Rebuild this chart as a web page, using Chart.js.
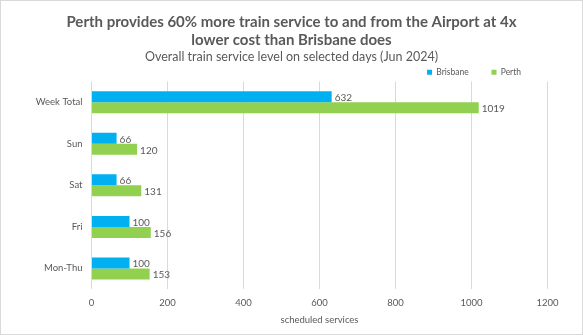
<!DOCTYPE html>
<html>
<head>
<meta charset="utf-8">
<script src="https://cdn.jsdelivr.net/npm/chart.js@4"></script>
<style>
  html, body { margin: 0; padding: 0; background: #fff; }
  #wrap { width: 583px; height: 335px; box-sizing: border-box; border: 1px solid #d9d9d9; position: relative; }
</style>
</head>
<body>
<div id="wrap"><canvas id="chart"></canvas></div>
<script>
// chart data
const categories = ["Week Total", "Sun", "Sat", "Fri", "Mon-Thu"];
const brisbane = [632, 66, 66, 100, 100];
const perth = [1019, 120, 131, 156, 153];
const xTicks = [0, 200, 400, 600, 800, 1000, 1200];

const textColor = "#595959";
const fontFamily = "Lato, 'Open Sans', sans-serif";

// draw the value at the end of each bar
const valueLabels = {
  id: "valueLabels",
  afterDatasetsDraw(chart) {
    const ctx = chart.ctx;
    ctx.save();
    ctx.fillStyle = textColor;
    ctx.font = "10px " + fontFamily;
    ctx.textBaseline = "middle";
    ctx.textAlign = "left";
    chart.data.datasets.forEach((ds, i) => {
      chart.getDatasetMeta(i).data.forEach((bar, j) => {
        ctx.fillText(String(ds.data[j]), bar.x + 3, bar.y + 1);
      });
    });
    ctx.restore();
  },
};

// pull the legend in from the right edge, like the original
const legendShift = {
  id: "legendShift",
  afterLayout(chart) {
    chart.legend.right -= 60;
    chart.legend.top += 5;
    chart.legend.bottom += 5;
  },
};

const ctx = document.getElementById("chart").getContext("2d");
new Chart(ctx, {
  type: "bar",
  data: {
    labels: categories,
    datasets: [
      { label: "Brisbane", data: brisbane, backgroundColor: "#00B0F0" },
      { label: "Perth", data: perth, backgroundColor: "#92D050" },
    ],
  },
  options: {
    indexAxis: "y",
    responsive: true,
    maintainAspectRatio: false,
    animation: false,
    categoryPercentage: 0.53,
    barPercentage: 1.0,
    layout: { padding: { left: 0, right: 0, top: 0, bottom: 8 } },
    plugins: {
      title: {
        display: true,
        text: ["Perth provides 60% more train service to and from the Airport at 4x", "lower cost than Brisbane does"],
        color: textColor,
        font: { family: fontFamily, size: 15, weight: "bold", lineHeight: 1.2 },
        padding: { top: 12, bottom: 0 },
      },
      subtitle: {
        display: true,
        text: "Overall train service level on selected days (Jun 2024)",
        color: textColor,
        font: { family: fontFamily, size: 12.5 },
        padding: { top: 0, bottom: -2 },
      },
      legend: {
        position: "top",
        align: "end",
        labels: {
          color: textColor,
          font: { family: fontFamily, size: 8.5, lineHeight: 1.2 },
          boxWidth: 5,
          boxHeight: 5,
          padding: 1,
          generateLabels: (chart) => {
            const items = Chart.defaults.plugins.legend.labels.generateLabels(chart);
            items[0].text = items[0].text + "          ";
            return items;
          },
        },
      },
      tooltip: { enabled: false },
    },
    scales: {
      x: {
        min: 0,
        max: 1200,
        afterBuildTicks: (scale) => {
          scale.ticks = xTicks.map((v) => ({ value: v }));
        },
        grid: { color: "#d9d9d9", drawTicks: false },
        border: { display: false },
        ticks: {
          color: textColor,
          font: { family: fontFamily, size: 9.5 },
          padding: 8,
          callback: (v) => String(v),
        },
        title: {
          display: true,
          text: "scheduled services",
          color: textColor,
          font: { family: fontFamily, size: 9.5 },
          padding: { top: -2, bottom: 0 },
        },
      },
      y: {
        grid: { display: false, drawTicks: false },
        border: { display: false },
        afterFit: (scale) => { scale.width = 90.5; },
        ticks: { color: textColor, font: { family: fontFamily, size: 9.5 }, padding: 9 },
      },
      // empty right-hand margin so the titles stay centred on the whole chart
      yRight: {
        type: "category",
        position: "right",
        grid: { display: false, drawTicks: false },
        border: { display: false },
        ticks: { display: false },
        afterFit: (scale) => { scale.width = 34.5; },
      },
    },
  },
  plugins: [valueLabels, legendShift],
});
</script>
</body>
</html>
